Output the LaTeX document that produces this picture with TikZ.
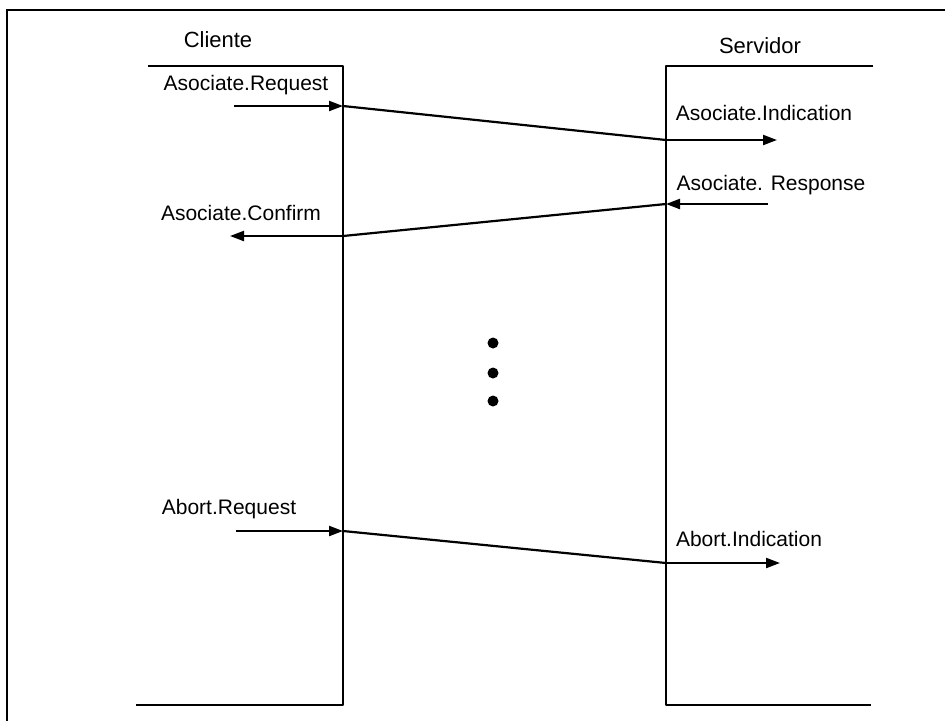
\documentclass[tikz,border=0pt]{standalone}
\usepackage{fontspec}
\setmainfont{Liberation Sans}
\usetikzlibrary{arrows.meta}
\begin{document}
\begin{tikzpicture}[x=1pt,y=-1pt,
  lane/.style={line width=2.4pt,line join=round},
  msg/.style={line width=2.2pt,-{Triangle[length=14pt,width=10pt]}},
  link/.style={line width=2.2pt},
  lbl/.style={font=\fontsize{21}{25}\selectfont,inner sep=0pt,anchor=base},
  head/.style={font=\fontsize{22}{26}\selectfont,inner sep=0pt,anchor=base},
  dot/.style={circle,fill=black,inner sep=0pt,minimum size=11pt}]
\useasboundingbox (0,0) rectangle (945,721);
% outer frame (top and left edges only)
\draw[line width=1.8pt] (7,721) -- (7,10) -- (945,10);
% lifelines
\draw[lane] (148,66) -- (343,66) -- (343,705) -- (136,705);
\draw[lane] (873,66) -- (666,66) -- (666,705) -- (871,705);
\node[head] (cli) at (218,47) {Cliente};
\node[head] (srv) at (760,53) {Servidor};
% points on the lifelines
\coordinate (rq0) at (234,106);
\coordinate (rqC) at (343,106);
\coordinate (inS) at (666,140);
\coordinate (in1) at (777,140);
\coordinate (rs0) at (768,204);
\coordinate (rsS) at (666,204);
\coordinate (cfC) at (343,236);
\coordinate (cf1) at (230,236);
\coordinate (ab0) at (236,531);
\coordinate (abC) at (343,531);
\coordinate (aiS) at (666,563);
\coordinate (ai1) at (780,563);
% labels
\node[lbl] (l1) at (246,90) {Asociate.Request};
\node[lbl] (l2) at (764,120) {Asociate.Indication};
\node[lbl] (l3) at (771,190) {Asociate. Response};
\node[lbl] (l4) at (241,220) {Asociate.Confirm};
\node[lbl] (l5) at (229,514) {Abort.Request};
\node[lbl] (l6) at (749,546) {Abort.Indication};
% association
\draw[msg] (rq0) -- (rqC);
\draw[link] (rqC) -- (inS);
\draw[msg] (inS) -- (in1);
\draw[msg] (rs0) -- (rsS);
\draw[link] (rsS) -- (cfC);
\draw[msg] (cfC) -- (cf1);
% ellipsis
\node[dot] (d1) at (493,343) {};
\node[dot] (d2) at (493,373) {};
\node[dot] (d3) at (493,401) {};
% abort
\draw[msg] (ab0) -- (abC);
\draw[link] (abC) -- (aiS);
\draw[msg] (aiS) -- (ai1);
\end{tikzpicture}
\end{document}
